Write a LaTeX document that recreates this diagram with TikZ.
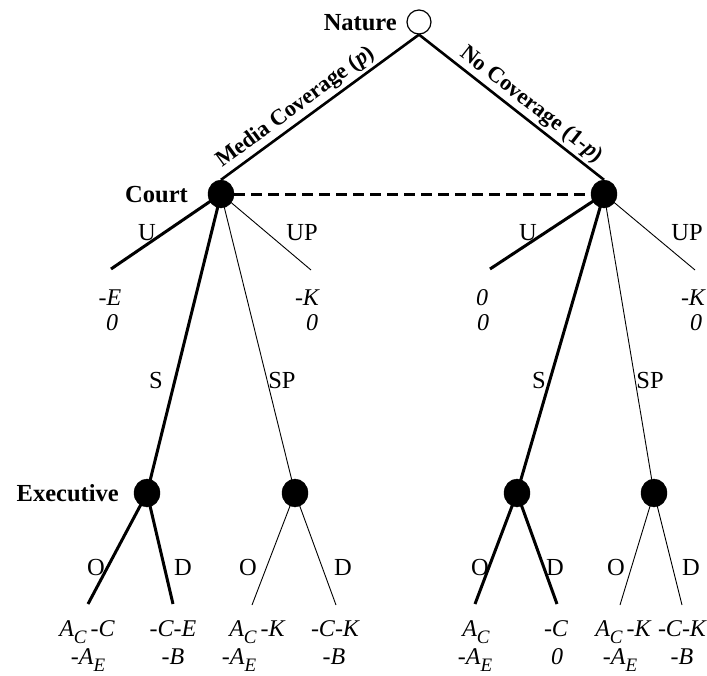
\documentclass[tikz,border=0pt]{standalone}
\usepackage{fontspec}
\setmainfont{Liberation Serif}
\usetikzlibrary{backgrounds,shapes.geometric}
\newcommand\lowsub[1]{\raisebox{-0.3em}{\fontsize{19}{20}\selectfont #1}}
\begin{document}
\begin{tikzpicture}[x=1pt,y=-1pt,
  lbl/.style={font=\fontsize{24.5}{27}\selectfont, inner sep=0pt, anchor=base},
  pay/.style={font=\fontsize{24}{27}\selectfont\itshape, inner sep=0pt, anchor=base},
  who/.style={font=\fontsize{24.5}{27}\selectfont\bfseries, inner sep=0pt, anchor=base east},
  tilt/.style={font=\fontsize{22.5}{25}\selectfont\bfseries, inner sep=2.5pt, sloped, above},
  decnode/.style={ellipse, fill=black, draw=black, minimum width=26pt, minimum height=28pt, inner sep=0pt},
  chance/.style={circle, draw=black, line width=1.2pt, fill=white, minimum size=24pt, inner sep=0pt},
  heavy/.style={line width=3pt},
  light/.style={line width=0.9pt},
  natline/.style={line width=2.6pt},
  infoset/.style={line width=3pt, dash pattern=on 11pt off 6pt},
]
\useasboundingbox (0,0) rectangle (707,675);

% decision nodes
\node[chance] (N) at (419,22) {};
\node[decnode] (CL) at (221,194) {};
\node[decnode] (CR) at (604,194) {};
\node[decnode] (E1) at (147,493) {};
\node[decnode] (E2) at (295,493) {};
\node[decnode] (E3) at (517,493) {};
\node[decnode] (E4) at (654,493) {};

% leaf ends
\coordinate (uL) at (111,269);
\coordinate (upL) at (311,270);
\coordinate (uR) at (490,269);
\coordinate (upR) at (695,270);
\coordinate (o1) at (88,604);
\coordinate (d1) at (173,604);
\coordinate (o2) at (252,605);
\coordinate (d2) at (336,605);
\coordinate (o3) at (475,604);
\coordinate (d3) at (557,604);
\coordinate (o4) at (620,605);
\coordinate (d4) at (682,605);

\begin{pgfonlayer}{background}
\draw[heavy] (CL.center) -- (uL);
\draw[light] (CL.center) -- (upL);
\draw[heavy] (CL.center) -- (E1.center);
\draw[light] (CL.center) -- (E2.center);
\draw[heavy] (CR.center) -- (uR);
\draw[light] (CR.center) -- (upR);
\draw[heavy] (CR.center) -- (E3.center);
\draw[light] (CR.center) -- (E4.center);
\draw[heavy] (E1.center) -- (o1);
\draw[heavy] (E1.center) -- (d1);
\draw[light] (E2.center) -- (o2);
\draw[light] (E2.center) -- (d2);
\draw[heavy] (E3.center) -- (o3);
\draw[heavy] (E3.center) -- (d3);
\draw[light] (E4.center) -- (o4);
\draw[light] (E4.center) -- (d4);
\end{pgfonlayer}

\draw[natline] (CL.north) -- node[tilt, pos=0.42] {Media Coverage (\textit{p})} (N.south);
\draw[natline] (N.south) -- node[tilt, pos=0.56] {No Coverage (1-\textit{p})} (CR.north);
\draw[infoset] (CL.east) -- (CR.west);

% player labels
\node[who] (tN) at (397,30.5) {Nature};
\node[who] (tC) at (188,202.5) {Court};
\node[who] (tE) at (119,501) {Executive};

% action labels
\node[lbl] (aU1) at (147,240) {U};
\node[lbl] (aUP1) at (302,240) {UP};
\node[lbl] (aU2) at (528,240) {U};
\node[lbl] (aUP2) at (687,240) {UP};
\node[lbl] (aS1) at (156,388) {S};
\node[lbl] (aSP1) at (282,388) {SP};
\node[lbl] (aS2) at (539,388) {S};
\node[lbl] (aSP2) at (650,388) {SP};
\node[lbl] (aO1) at (96,575) {O};
\node[lbl] (aD1) at (183,575) {D};
\node[lbl] (aO2) at (248,575) {O};
\node[lbl] (aD2) at (343,575) {D};
\node[lbl] (aO3) at (480,575) {O};
\node[lbl] (aD3) at (555,575) {D};
\node[lbl] (aO4) at (616,575) {O};
\node[lbl] (aD4) at (691,575) {D};

% payoffs, first stage
\node[pay] (pU1a) at (110,305) {-E};
\node[pay] (pU1b) at (112,330) {0};
\node[pay] (pUP1a) at (307,305) {-K};
\node[pay] (pUP1b) at (312,330) {0};
\node[pay] (pU2a) at (482,305) {0};
\node[pay] (pU2b) at (483,330) {0};
\node[pay] (pUP2a) at (693,305) {-K};
\node[pay] (pUP2b) at (696,330) {0};

% payoffs, executive stage
\node[pay] (p1a) at (87,636) {A\lowsub{C}\,-C};
\node[pay] (p1b) at (88,664) {-A\lowsub{E}};
\node[pay] (p2a) at (173,636) {-C-E};
\node[pay] (p2b) at (173,664) {-B};
\node[pay] (p3a) at (257,636) {A\lowsub{C}\,-K};
\node[pay] (p3b) at (239,664) {-A\lowsub{E}};
\node[pay] (p4a) at (335,636) {-C-K};
\node[pay] (p4b) at (334,664) {-B};
\node[pay] (p5a) at (476,636) {A\lowsub{C}};
\node[pay] (p5b) at (475,664) {-A\lowsub{E}};
\node[pay] (p6a) at (556,636) {-C};
\node[pay] (p6b) at (557,664) {0};
\node[pay] (p7a) at (623,636) {A\lowsub{C}\,-K};
\node[pay] (p7b) at (620,664) {-A\lowsub{E}};
\node[pay] (p8a) at (682,636) {-C-K};
\node[pay] (p8b) at (682,664) {-B};
\end{tikzpicture}
\end{document}
